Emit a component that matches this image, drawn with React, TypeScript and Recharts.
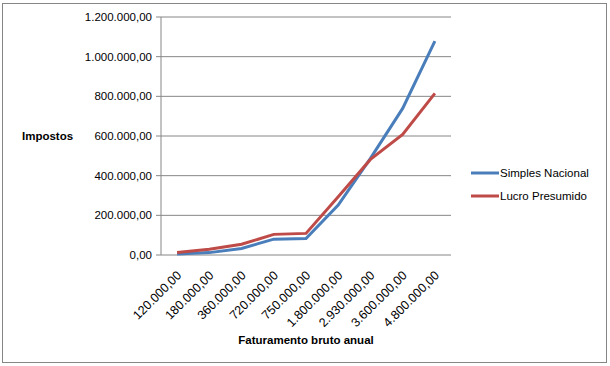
import React from "react";
import { LineChart, Line, XAxis, YAxis, CartesianGrid, Legend } from "recharts";

const faturamento = [
  "120.000,00",
  "180.000,00",
  "360.000,00",
  "720.000,00",
  "750.000,00",
  "1.800.000,00",
  "2.930.000,00",
  "3.600.000,00",
  "4.800.000,00",
];
const simplesNacional = [5000, 12000, 33000, 80000, 83000, 252000, 487000, 739000, 1078000];
const lucroPresumido = [13000, 29000, 54000, 104000, 109000, 294000, 482000, 608000, 815000];
const yTicks = [0, 200000, 400000, 600000, 800000, 1000000, 1200000];
const boundaryTicks = [0, 1, 2, 3, 4, 5, 6, 7, 8, 9];

const data = faturamento.map((f, i) => ({
  faturamento: f,
  simples: simplesNacional[i],
  lucro: lucroPresumido[i],
}));

const FONT = "'Liberation Sans', Arial, sans-serif";
const AXIS = "#868686";
const BLUE = "#4A7EBB";
const RED = "#BE4B48";

// 1200000 -> "1.200.000,00"
function brl(v: number) {
  const s = Math.round(v).toString().replace(/\B(?=(\d{3})+(?!\d))/g, ".");
  return `${s},00`;
}

function XTick({ x, y, payload }: any) {
  return (
    <g transform={`translate(${x + 2},${y + 16}) rotate(-45)`}>
      <text textAnchor="end" dy="0.35em" fontSize={12.5} fill="#000" fontFamily={FONT}>
        {payload.value}
      </text>
    </g>
  );
}

function LegendBox() {
  const items = [
    { name: "Simples Nacional", color: BLUE },
    { name: "Lucro Presumido", color: RED },
  ];
  return (
    <div style={{ fontFamily: FONT, fontSize: 11.5, color: "#000" }}>
      {items.map((it) => (
        <div key={it.name} style={{ display: "flex", alignItems: "center", height: 23 }}>
          <svg width={28} height={6} style={{ marginRight: 1 }}>
            <line x1={0} y1={3} x2={28} y2={3} stroke={it.color} strokeWidth={3} />
          </svg>
          <span>{it.name}</span>
        </div>
      ))}
    </div>
  );
}

export default function App() {
  return (
    <div
      style={{
        position: "fixed",
        left: 2,
        top: 3,
        width: 603,
        height: 358,
        border: `1px solid ${AXIS}`,
        background: "#fff",
      }}
    >
      <LineChart width={603} height={358} data={data} margin={{ top: 13, right: 155, bottom: 0, left: 0 }}>
        <CartesianGrid vertical={false} stroke={AXIS} strokeWidth={1} />
        <XAxis
          xAxisId="grid"
          type="number"
          domain={[0, 9]}
          ticks={boundaryTicks}
          tick={false}
          height={0}
          stroke={AXIS}
          tickSize={5}
          allowDataOverflow
        />
        <XAxis
          dataKey="faturamento"
          scale="band"
          interval={0}
          tick={<XTick />}
          tickLine={false}
          axisLine={false}
          tickSize={0}
          height={107}
          label={{
            value: "Faturamento bruto anual",
            position: "insideBottom",
            offset: 18,
            style: { fontFamily: FONT, fontSize: 11.5, fontWeight: "bold", fill: "#000" },
          }}
        />
        <YAxis
          width={158}
          domain={[0, 1200000]}
          ticks={yTicks}
          tickFormatter={brl}
          stroke={AXIS}
          tickSize={5}
          tickMargin={4}
          tick={{ fontFamily: FONT, fontSize: 11.5, fill: "#000" }}
          label={{
            value: "Impostos",
            position: "insideLeft",
            offset: 19,
            style: { fontFamily: FONT, fontSize: 11.5, fontWeight: "bold", fill: "#000", textAnchor: "start" },
          }}
        />
        <Legend
          layout="horizontal"
          verticalAlign="middle"
          align="center"
          content={<LegendBox />}
          wrapperStyle={{ left: 468, top: 157, width: 134 }}
        />
        <Line
          dataKey="simples"
          name="Simples Nacional"
          stroke={BLUE}
          strokeWidth={3}
          dot={false}
          isAnimationActive={false}
        />
        <Line
          dataKey="lucro"
          name="Lucro Presumido"
          stroke={RED}
          strokeWidth={3}
          dot={false}
          isAnimationActive={false}
        />
      </LineChart>
    </div>
  );
}
